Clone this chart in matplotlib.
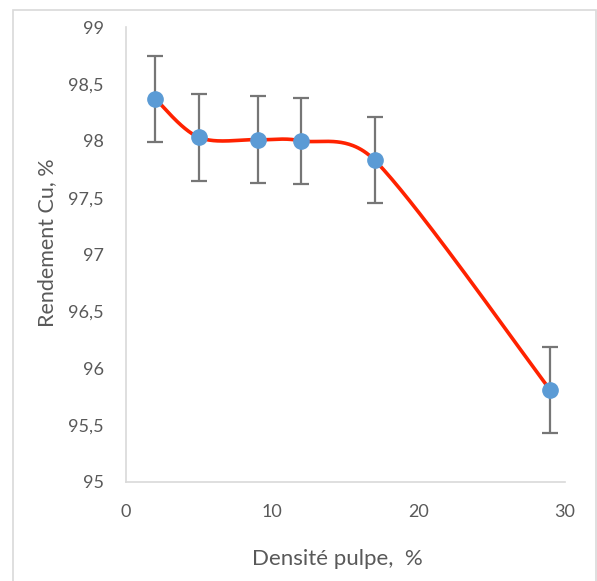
import numpy as np
import matplotlib
matplotlib.use("Agg")
import matplotlib.pyplot as plt
from matplotlib.patches import Rectangle

# data
densite = [2, 5, 9, 12, 17, 29]
rendement = [98.37, 98.03, 98.01, 98.0, 97.83, 95.81]
erreur = [0.38, 0.38, 0.38, 0.38, 0.38, 0.38]

y_ticks = [95, 95.5, 96, 96.5, 97, 97.5, 98, 98.5, 99]
y_labels = ["95", "95,5", "96", "96,5", "97", "97,5", "98", "98,5", "99"]
x_ticks = [0, 10, 20, 30]


def smooth_line(xs, ys, sx, sy, n=60):
    # Excel-like smoothed line: tension 1/6, control length capped at half the segment
    px = np.array(xs) * sx
    py = np.array(ys) * sy
    px = np.concatenate([[px[0]], px, [px[-1]]])
    py = np.concatenate([[py[0]], py, [py[-1]]])
    pts = np.stack([px, py], axis=1)
    out_x, out_y = [], []
    for i in range(1, len(pts) - 2):
        p0, p1, p2, p3 = pts[i - 1], pts[i], pts[i + 1], pts[i + 2]
        d12 = np.linalg.norm(p2 - p1)
        v1 = (p2 - p0) / 6
        v2 = (p3 - p1) / 6
        if np.linalg.norm(v1) > d12 / 2:
            v1 = v1 * (d12 / 2) / np.linalg.norm(v1)
        if np.linalg.norm(v2) > d12 / 2:
            v2 = v2 * (d12 / 2) / np.linalg.norm(v2)
        c1 = p1 + v1
        c2 = p2 - v2
        t = np.linspace(0, 1, n)[:, None]
        b = ((1 - t) ** 3) * p1 + 3 * ((1 - t) ** 2) * t * c1 + 3 * (1 - t) * t ** 2 * c2 + t ** 3 * p2
        out_x.extend(b[:, 0] / sx)
        out_y.extend(b[:, 1] / sy)
    return np.array(out_x), np.array(out_y)


plt.rcParams['font.family'] = ['Lato', 'DejaVu Sans']
fig = plt.figure(figsize=(5.97, 5.81), dpi=100)
ax = fig.add_axes([0.211, 0.1704, 0.735, 0.783])

# chart border
fig.patches.append(Rectangle((13 / 597, -0.01), (596 - 13) / 597, 1 - 10 / 581 + 0.01,
                             transform=fig.transFigure, fill=False,
                             edgecolor='#D9D9D9', linewidth=1.2))

sx, sy = 439 / 30, 113.75
cx, cy = smooth_line(densite, rendement, sx, sy)
ax.plot(cx, cy, color='#FF2200', linewidth=2.6, zorder=2)
ax.errorbar(densite, rendement, yerr=erreur, fmt='none', ecolor='#767676',
            elinewidth=1.6, capsize=6, capthick=1.6, zorder=3)
ax.plot(densite, rendement, 'o', color='#5B9BD5', markersize=11, zorder=4)

ax.set_xlim(0, 30)
ax.set_ylim(95, 99)
ax.set_xticks(x_ticks)
ax.set_yticks(y_ticks)
ax.set_yticklabels(y_labels)
ax.tick_params(length=0, labelsize=13, labelcolor='#595959')
ax.tick_params(axis='y', pad=16)
ax.tick_params(axis='x', pad=16)

for s in ['top', 'right']:
    ax.spines[s].set_visible(False)
for s in ['left', 'bottom']:
    ax.spines[s].set_color('#D9D9D9')
    ax.spines[s].set_linewidth(1.2)

ax.set_xlabel("Densité pulpe,  %", fontsize=16, color='#595959', va='center')
ax.set_ylabel("Rendement Cu, %", fontsize=15.5, color='#595959', va='center')
ax.xaxis.set_label_coords(0.482, -0.169)
ax.yaxis.set_label_coords(-0.18, 0.527)

fig.savefig("out.png", dpi=100)
